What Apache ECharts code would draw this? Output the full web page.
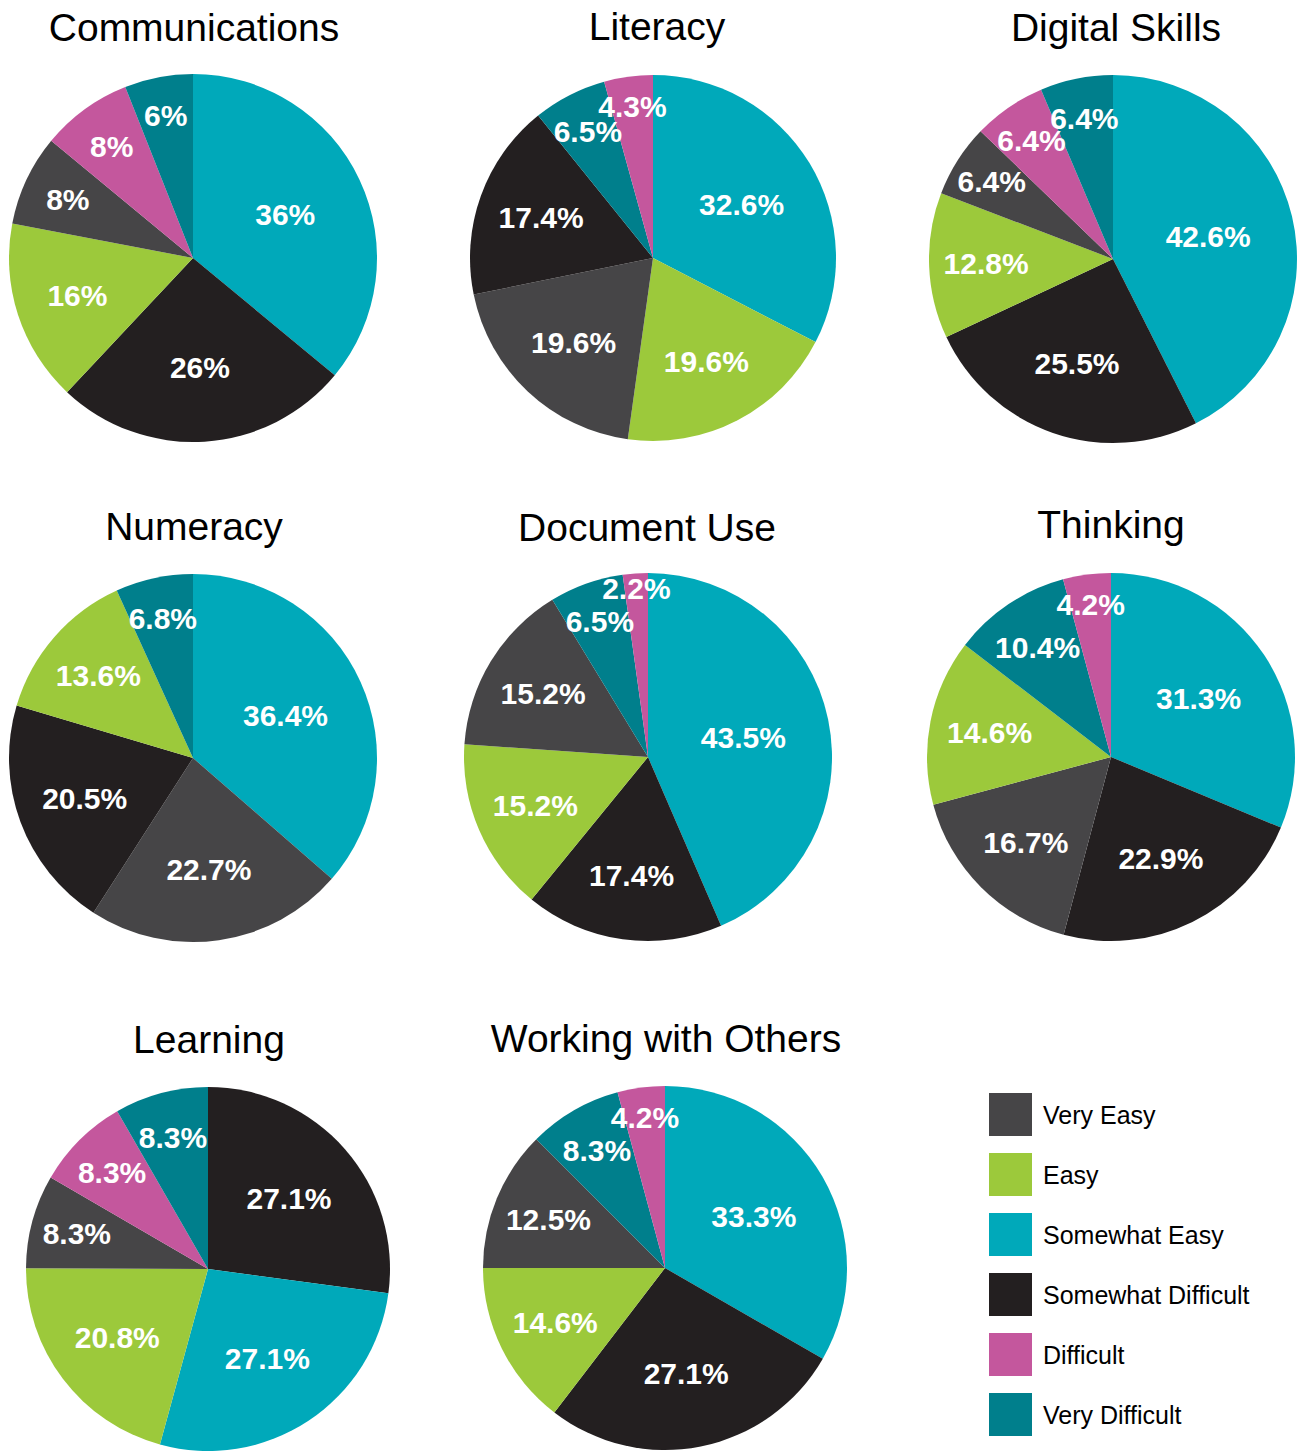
<!DOCTYPE html>
<html>
<head>
<meta charset="utf-8">
<script src="https://cdn.jsdelivr.net/npm/echarts@6/dist/echarts.min.js"></script>
<style>
html, body { margin: 0; padding: 0; background: #ffffff; }
#chart { width: 1299px; height: 1452px; }
</style>
</head>
<body>
<div id="chart"></div>
<script>
// ---- Data ----
const categories = ['Very Easy', 'Easy', 'Somewhat Easy', 'Somewhat Difficult', 'Difficult', 'Very Difficult'];
const categoryColors = ['#464547', '#9cc93b', '#00a9ba', '#231f20', '#c4579d', '#007f8c'];

const chartTitles = ['Communications', 'Literacy', 'Digital Skills', 'Numeracy', 'Document Use', 'Thinking', 'Learning', 'Working with Others'];

// slices listed clockwise from 12 o'clock
const communicationsNames = ['Somewhat Easy', 'Somewhat Difficult', 'Easy', 'Very Easy', 'Difficult', 'Very Difficult'];
const communicationsValues = [36, 26, 16, 8, 8, 6];

const literacyNames = ['Somewhat Easy', 'Easy', 'Very Easy', 'Somewhat Difficult', 'Very Difficult', 'Difficult'];
const literacyValues = [32.6, 19.6, 19.6, 17.4, 6.5, 4.3];

const digitalSkillsNames = ['Somewhat Easy', 'Somewhat Difficult', 'Easy', 'Very Easy', 'Difficult', 'Very Difficult'];
const digitalSkillsValues = [42.6, 25.5, 12.8, 6.4, 6.4, 6.4];

const numeracyNames = ['Somewhat Easy', 'Very Easy', 'Somewhat Difficult', 'Easy', 'Very Difficult'];
const numeracyValues = [36.4, 22.7, 20.5, 13.6, 6.8];

const documentUseNames = ['Somewhat Easy', 'Somewhat Difficult', 'Easy', 'Very Easy', 'Very Difficult', 'Difficult'];
const documentUseValues = [43.5, 17.4, 15.2, 15.2, 6.5, 2.2];

const thinkingNames = ['Somewhat Easy', 'Somewhat Difficult', 'Very Easy', 'Easy', 'Very Difficult', 'Difficult'];
const thinkingValues = [31.3, 22.9, 16.7, 14.6, 10.4, 4.2];

const learningNames = ['Somewhat Difficult', 'Somewhat Easy', 'Easy', 'Very Easy', 'Difficult', 'Very Difficult'];
const learningValues = [27.1, 27.1, 20.8, 8.3, 8.3, 8.3];

const workingNames = ['Somewhat Easy', 'Somewhat Difficult', 'Easy', 'Very Easy', 'Very Difficult', 'Difficult'];
const workingValues = [33.3, 27.1, 14.6, 12.5, 8.3, 4.2];

// ---- Layout (positions / sizes only) ----
const pieLayout = [
  { names: communicationsNames, values: communicationsValues, cx: 193, cy: 258, r: 184, tx: 194, ty: 27 },
  { names: literacyNames, values: literacyValues, cx: 653, cy: 258, r: 183, tx: 657, ty: 26 },
  { names: digitalSkillsNames, values: digitalSkillsValues, cx: 1113, cy: 259, r: 184, tx: 1116, ty: 27 },
  { names: numeracyNames, values: numeracyValues, cx: 193, cy: 758, r: 184, tx: 194, ty: 526 },
  { names: documentUseNames, values: documentUseValues, cx: 648, cy: 757, r: 184, tx: 647, ty: 527 },
  { names: thinkingNames, values: thinkingValues, cx: 1111, cy: 757, r: 184, tx: 1111, ty: 524 },
  { names: learningNames, values: learningValues, cx: 208, cy: 1269, r: 182, tx: 209, ty: 1039 },
  { names: workingNames, values: workingValues, cx: 665, cy: 1268, r: 182, tx: 666, ty: 1038 }
];

const FONT = '"Liberation Sans", Arial, Helvetica, sans-serif';

function colorOf(name) {
  return categoryColors[categories.indexOf(name)];
}
// "best fit"-like label placement: thinner slices get labels further out
function labelDistance(share, r) {
  const f = Math.min(0.91, Math.max(0.5, 1.02 - 0.303 * Math.log10(share * 100)));
  return f * r - 2;
}

const series = [];
const graphics = [];

pieLayout.forEach(function (p, pi) {
  const total = p.values.reduce(function (a, b) { return a + b; }, 0);
  series.push({
    type: 'pie',
    name: chartTitles[pi],
    center: [p.cx, p.cy],
    radius: [0, p.r],
    startAngle: 90,
    clockwise: true,
    silent: true,
    emphasis: { disabled: true },
    label: { show: false },
    labelLine: { show: false },
    data: p.values.map(function (v, i) {
      return { name: p.names[i], value: v, itemStyle: { color: colorOf(p.names[i]), borderWidth: 0 } };
    })
  });
  p.values.forEach(function (v, k) {
    const d = labelDistance(v / total, p.r);
    series.push({
      type: 'pie',
      name: chartTitles[pi] + ' label ' + k,
      center: [p.cx, p.cy],
      radius: [d - 1, d + 1],
      startAngle: 90,
      clockwise: true,
      silent: true,
      avoidLabelOverlap: false,
      labelLayout: { hideOverlap: false, moveOverlap: null },
      emphasis: { disabled: true },
      itemStyle: { color: 'rgba(0,0,0,0)', borderWidth: 0 },
      labelLine: { show: false },
      label: {
        position: 'inside',
        formatter: '{c}%',
        color: '#ffffff',
        fontSize: 30,
        fontWeight: 'bold',
        fontFamily: FONT,
        textBorderWidth: 0
      },
      data: p.values.map(function (vv, i) {
        return { name: p.names[i], value: vv, label: { show: i === k } };
      })
    });
  });
  graphics.push({
    type: 'text',
    x: p.tx,
    y: p.ty,
    silent: true,
    style: {
      text: chartTitles[pi],
      align: 'center',
      verticalAlign: 'middle',
      fill: '#000000',
      fontSize: 39,
      fontFamily: FONT
    }
  });
});

const chart = echarts.init(document.getElementById('chart'), null, { renderer: 'svg' });
chart.setOption({
  animation: false,
  backgroundColor: '#ffffff',
  tooltip: { show: false },
  legend: {
    orient: 'vertical',
    left: 989,
    top: 1093,
    padding: 0,
    itemWidth: 43,
    itemHeight: 43,
    itemGap: 17,
    icon: 'rect',
    selectedMode: false,
    data: categories.map(function (c, i) {
      return { name: c, itemStyle: { color: categoryColors[i], borderWidth: 0 } };
    }),
    textStyle: { fontSize: 25, color: '#000000', fontFamily: FONT, padding: [0, 0, 0, 6] }
  },
  graphic: graphics,
  series: series
});
</script>
</body>
</html>
